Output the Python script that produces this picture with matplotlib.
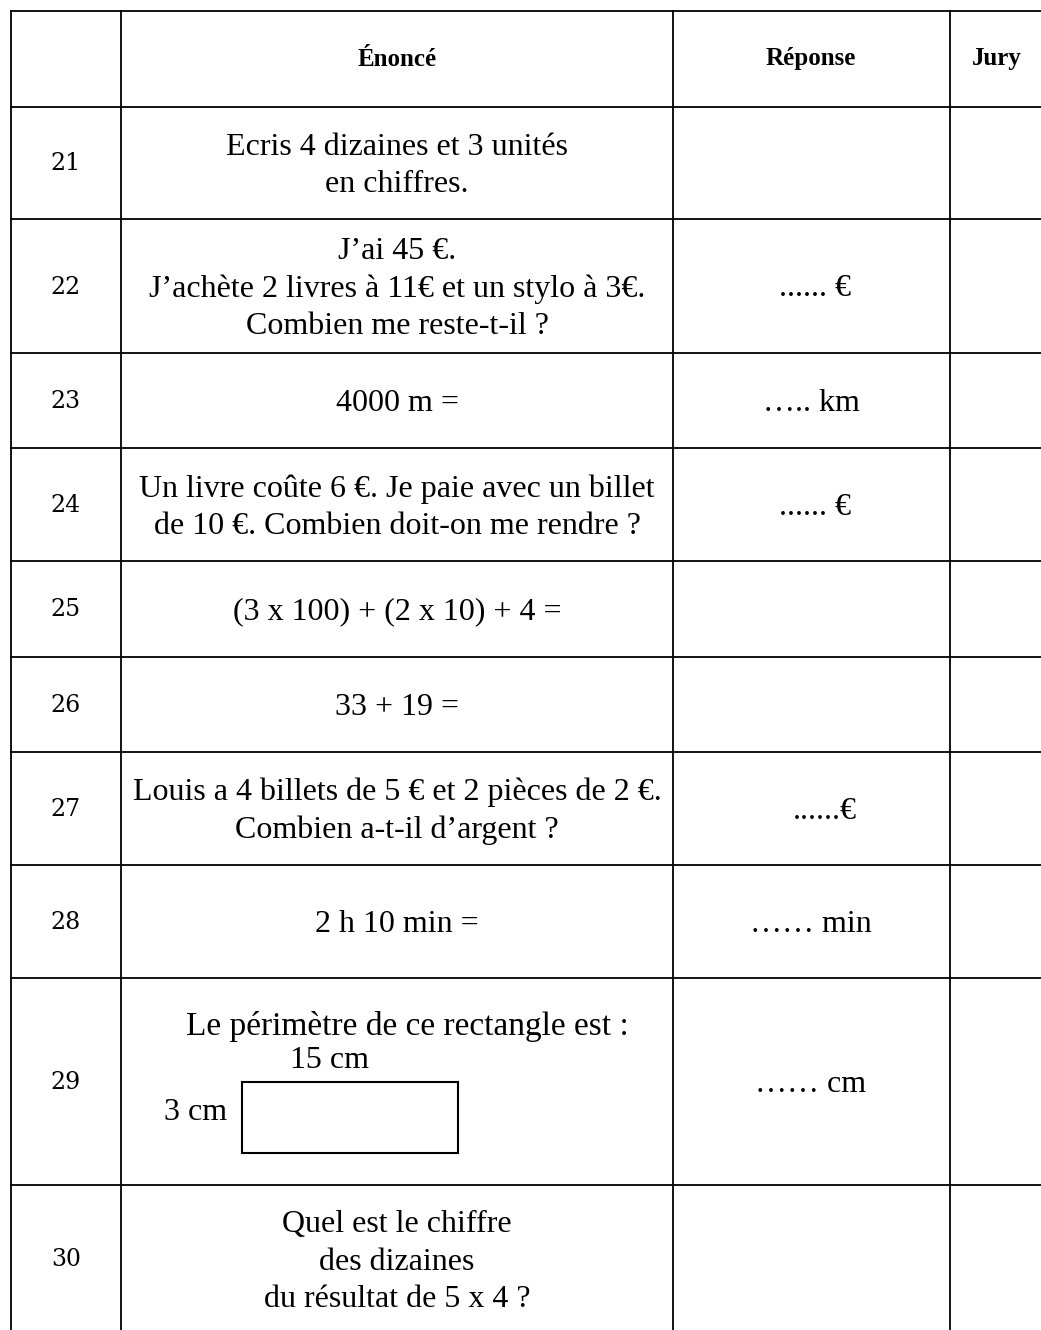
import matplotlib.pyplot as plt
from matplotlib.patches import Rectangle

plt.rcParams["font.family"] = ["Liberation Serif", "DejaVu Serif"]

# ---- table content ----
headers = ["", "Énoncé", "Réponse", "Jury"]
row_numbers = ["21", "22", "23", "24", "25", "26", "27", "28", "29", "30"]
enonces = [
    "Ecris 4 dizaines et 3 unités\nen chiffres.",
    "J’ai 45 €.\nJ’achète 2 livres à 11€ et un stylo à 3€.\nCombien me reste-t-il ?",
    "4000 m =",
    "Un livre coûte 6 €. Je paie avec un billet\nde 10 €. Combien doit-on me rendre ?",
    "(3 x 100) + (2 x 10) + 4 =",
    "33 + 19 =",
    "Louis a 4 billets de 5 € et 2 pièces de 2 €.\nCombien a-t-il d’argent ?",
    "2 h 10 min =",
    "",  # row 29 drawn separately with the rectangle sketch
    "Quel est le chiffre\ndes dizaines\ndu résultat de 5 x 4 ?",
]
reponses = ["", "...... €", "….. km", "...... €", "", "", "......€", "…… min", "…… cm", ""]

# ---- layout (pixel grid of the page) ----
W, H = 1041, 1330
col_edges = [11, 121, 673, 950]
row_edges = [11, 107, 219, 353, 448, 561, 657, 752, 865, 978, 1185, H]
col_centers = [66, 397, 811, 997]

fig = plt.figure(figsize=(W / 100, H / 100), dpi=100)
ax = fig.add_axes([0, 0, 1, 1])
ax.set_xlim(0, W)
ax.set_ylim(H, 0)
ax.axis("off")

lw = 1.3
for y in row_edges[:-1]:
    ax.plot([col_edges[0], W], [y, y], color="black", lw=lw)
for x in col_edges:
    ax.plot([x, x], [row_edges[0], H], color="black", lw=lw)

# header
for x, h in zip(col_centers, headers):
    ax.text(x, 59, h, ha="center", va="center", fontsize=18, fontweight="bold")

body = 23
for i, (num, txt, rep) in enumerate(zip(row_numbers, enonces, reponses)):
    y0, y1 = row_edges[i + 1], row_edges[i + 2]
    yc = (y0 + y1) / 2
    if num == "30":
        yc = 1259
    ax.text(col_centers[0], yc + 1, num, ha="center", va="center", fontsize=17,
            family=["DejaVu Serif"])
    if txt:
        ax.text(col_centers[1], yc + 3, txt, ha="center", va="center",
                fontsize=body, linespacing=1.38, multialignment="center")
    if rep:
        # the row 27 answer sits a little right of centre in the original
        rx = col_centers[2] + (14 if num == "27" else 4 if num in ("22", "24") else 0)
        ax.text(rx, yc + 3, rep, ha="center", va="center", fontsize=body)

# row 29: perimeter question with rectangle
ax.text(186, 1027, "Le périmètre de ce rectangle est :", ha="left", va="center", fontsize=24)
ax.text(290, 1060, "15 cm", ha="left", va="center", fontsize=body)
ax.text(164, 1112, "3 cm", ha="left", va="center", fontsize=body)
ax.add_patch(Rectangle((242, 1082), 216, 71, fill=False, ec="black", lw=1.5))

fig.savefig("out.png", dpi=100, facecolor="white")
